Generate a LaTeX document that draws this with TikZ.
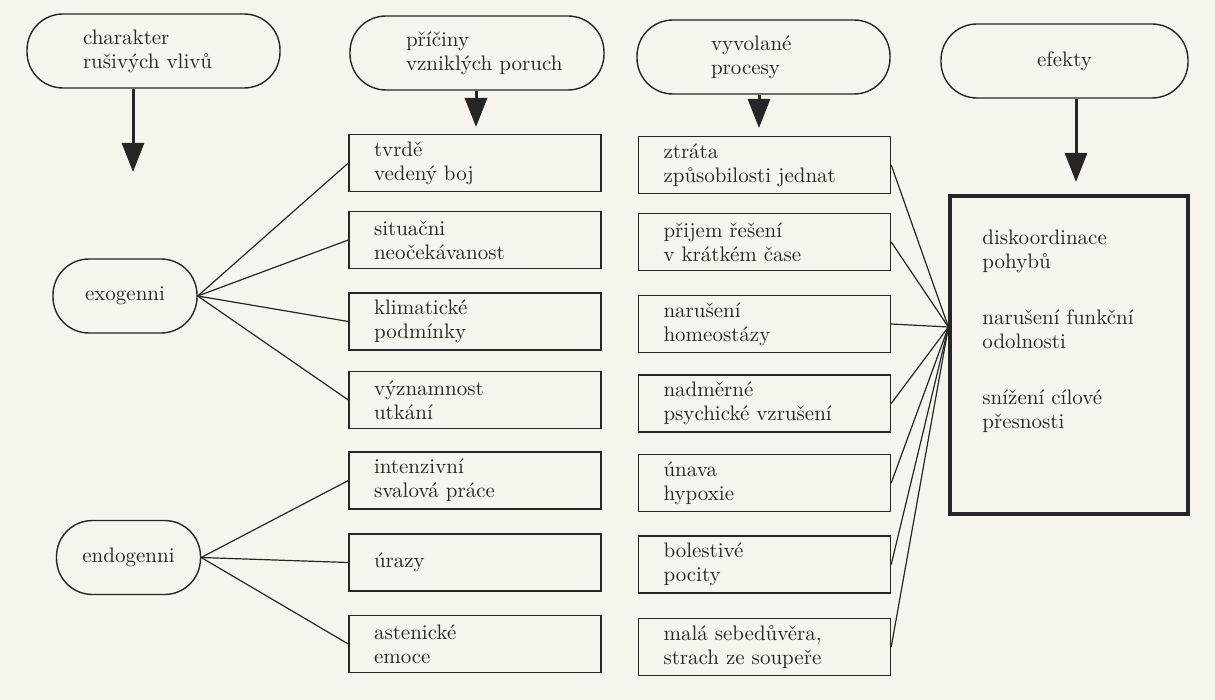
\documentclass[tikz,border=0pt]{standalone}
\usetikzlibrary{arrows.meta}
\definecolor{paper}{RGB}{246,244,236}
\definecolor{ink}{RGB}{38,38,38}
\begin{document}
\begin{tikzpicture}[x=0.5pt,y=-0.5pt,
  every node/.style={font=\fontsize{10.5}{12}\selectfont, text=ink},
  hdr/.style={draw=ink, line width=0.7pt, rounded corners=18pt, minimum height=37pt, inner ysep=0pt, align=left},
  pbox/.style={draw=ink, line width=0.7pt, minimum width=126pt, minimum height=28.5pt, inner xsep=12.5pt, inner ysep=0pt, text width=101pt, align=left},
  sidebox/.style={draw=ink, line width=0.7pt, rounded corners=18pt, minimum width=72pt, minimum height=37pt, align=center},
  effbox/.style={draw=ink, line width=1.6pt, minimum width=119pt, minimum height=159pt},
  bigarr/.style={draw=ink, line width=1.5pt, -{Triangle[length=14.5pt,width=11pt]}},
  conn/.style={draw=ink, line width=0.6pt}
]
\fill[paper] (0,0) rectangle (1215,700);
\useasboundingbox (0,0) rectangle (1215,700);

% header ovals
\node[hdr, inner xsep=28pt, text width=70.5pt] (o1) at (153.5,51) {charakter\\\mbox{rušivých vlivů}};
\node[hdr, inner xsep=28pt, text width=71pt] (o2) at (477,53) {příčiny\\\mbox{vzniklých poruch}};
\node[hdr, inner xsep=37pt, text width=52.5pt] (o3) at (763.5,57) {vyvolané\\procesy};
\node[hdr, inner xsep=10pt, text width=103.5pt, align=center] (o4) at (1064.5,61) {efekty};

% arrow tips
\coordinate (t1) at (133,172);
\coordinate (t2) at (476,127);
\coordinate (t3) at (759,128);
\coordinate (t4) at (1076,182);
\draw[bigarr] (o1.south -| t1) -- (t1);
\draw[bigarr] (o2.south -| t2) -- (t2);
\draw[bigarr] (o3.south -| t3) -- (t3);
\draw[bigarr] (o4.south -| t4) -- (t4);

% left ovals
\node[sidebox] (exo) at (125,296) {exogenni};
\node[sidebox] (endo) at (128.5,557.5) {endogenni};

% middle column
\node[pbox] (m1) at (475,163) {tvrdě\\vedený boj};
\node[pbox] (m2) at (475,240) {situačni\\neočekávanost};
\node[pbox] (m3) at (475,321.5) {klimatické\\podmínky};
\node[pbox] (m4) at (475,400) {významnost\\utkání};
\node[pbox] (m5) at (475,480.5) {intenzivní\\svalová práce};
\node[pbox] (m6) at (475,562.5) {úrazy};
\node[pbox] (m7) at (475,644) {astenické\\emoce};

% right column
\node[pbox] (r1) at (764.5,165) {ztráta\\způsobilosti jednat};
\node[pbox] (r2) at (764.5,242) {přijem řešení\\v krátkém čase};
\node[pbox] (r3) at (764.5,324) {narušení\\homeostázy};
\node[pbox] (r4) at (764.5,403.5) {nadměrné\\psychické vzrušení};
\node[pbox] (r5) at (764.5,483) {únava\\hypoxie};
\node[pbox] (r6) at (764.5,564.5) {bolestivé\\pocity};
\node[pbox] (r7) at (764.5,647) {malá sebedůvěra,\\strach ze soupeře};

% effects box
\node[effbox] (eff) at (1069,355) {};
\node[anchor=north west, align=left, inner sep=0pt] (efftext) at (982,230)
  {diskoordinace\\pohybů\\[16pt]narušení funkční\\odolnosti\\[16pt]snížení cílové\\přesnosti};

% connectors
\foreach \m in {m1,m2,m3,m4} \draw[conn] (exo.east) -- (\m.west);
\foreach \m in {m5,m6,m7} \draw[conn] (endo.east) -- (\m.west);
\coordinate (conv) at (eff.west |- 0,327);
\foreach \r in {r1,r2,r3,r4,r5,r6,r7} \draw[conn] (\r.east) -- (conv);
\end{tikzpicture}
\end{document}
